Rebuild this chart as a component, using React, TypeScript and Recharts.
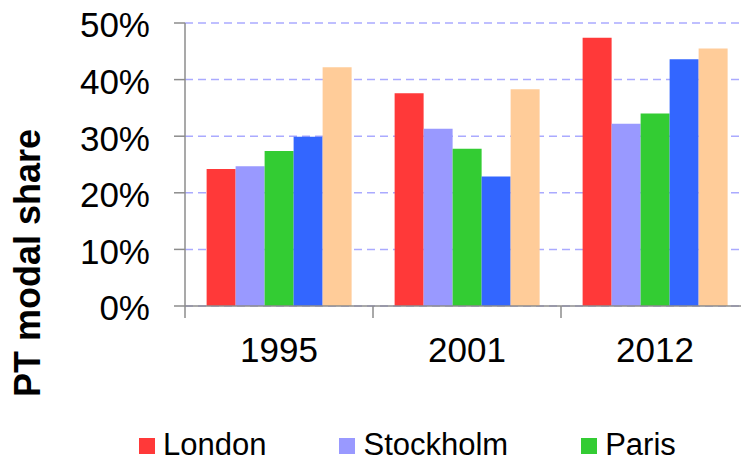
import React from "react"
import { BarChart, Bar, XAxis, YAxis, CartesianGrid } from "recharts"

// PT modal share by city
const YEARS = ["1995", "2001", "2012"]
const LONDON = [24.2, 37.6, 47.4]
const STOCKHOLM = [24.7, 31.3, 32.2]
const PARIS = [27.4, 27.8, 34.0]
const MADRID = [29.9, 22.9, 43.6]
const BERLIN = [42.2, 38.3, 45.5]
const Y_TICKS = [0, 10, 20, 30, 40, 50]

const SERIES = [
  { key: "London", values: LONDON, color: "#FF3939" },
  { key: "Stockholm", values: STOCKHOLM, color: "#9999FF" },
  { key: "Paris", values: PARIS, color: "#33CC33" },
  { key: "Madrid", values: MADRID, color: "#3366FF" },
  { key: "Berlin", values: BERLIN, color: "#FFCC99" },
]

const data = YEARS.map((year, i) => {
  const row: Record<string, string | number> = { year }
  SERIES.forEach((s) => {
    row[s.key] = s.values[i]
  })
  return row
})

const FONT = "'Liberation Sans', Arial, sans-serif"
const AXIS = "#8c8c8c"

function YearTick(props: any) {
  const { x, y, payload } = props
  const half = payload.offset ?? 94
  const left = x - half
  return (
    <g>
      <line x1={left} y1={y} x2={left} y2={y + 12} stroke={AXIS} strokeWidth={1.5} />
      <text
        x={x}
        y={y + 56}
        textAnchor="middle"
        fontFamily={FONT}
        fontSize={35}
        fill="#000"
      >
        {payload.value}
      </text>
    </g>
  )
}

function AxisTitle() {
  return (
    <text
      x={40}
      y={263}
      transform="rotate(-90 40 263)"
      textAnchor="middle"
      fontFamily={FONT}
      fontWeight={700}
      fontSize={36}
      fill="#000"
    >
      PT modal share
    </text>
  )
}

export default function App() {
  return (
    <div
      style={{
        position: "fixed",
        left: 0,
        top: 0,
        width: 741,
        height: 463,
        overflow: "hidden",
        background: "#fff",
      }}
    >
      <BarChart
        width={800}
        height={463}
        data={data}
        margin={{ top: 23, right: 51, left: 0, bottom: 97 }}
        barCategoryGap="11.5%"
        barGap={0}
      >
        <CartesianGrid
          vertical={false}
          stroke="#aaaaff"
          strokeDasharray="8 5"
          strokeWidth={1.5}
        />
        <XAxis
          dataKey="year"
          height={60}
          tickSize={0}
          tickMargin={0}
          tick={<YearTick />}
          axisLine={{ stroke: AXIS, strokeWidth: 1.5 }}
          interval={0}
        />
        <YAxis
          width={185}
          domain={[0, 50]}
          ticks={Y_TICKS}
          interval={0}
          tickFormatter={(v) => `${v}%`}
          tickSize={11}
          tickMargin={24}
          tickLine={{ stroke: AXIS, strokeWidth: 1.5 }}
          axisLine={{ stroke: AXIS, strokeWidth: 1.5 }}
          tick={{ fill: "#000", fontSize: 35, fontFamily: FONT, dy: 2 }}
          label={<AxisTitle />}
        />
        {SERIES.map((s) => (
          <Bar
            key={s.key}
            dataKey={s.key}
            fill={s.color}
            isAnimationActive={false}
          />
        ))}
      </BarChart>
      <div
        style={{
          position: "absolute",
          left: 139,
          top: 429,
          display: "flex",
          flexWrap: "wrap",
          width: 620,
          columnGap: 73,
          fontFamily: FONT,
          fontSize: 31,
          lineHeight: "32px",
          color: "#000",
        }}
      >
        {SERIES.map((s) => (
          <div key={s.key} style={{ display: "flex", alignItems: "center" }}>
            <span
              style={{
                display: "inline-block",
                width: 16,
                height: 16,
                background: s.color,
                marginRight: 8,
                marginTop: 2,
              }}
            />
            <span>{s.key}</span>
          </div>
        ))}
      </div>
    </div>
  )
}
